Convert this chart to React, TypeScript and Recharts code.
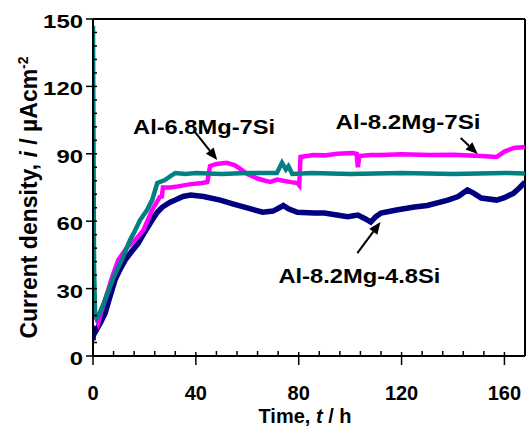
import React from "react";
import {
  LineChart,
  Line,
  XAxis,
  YAxis,
  ReferenceLine,
  ReferenceDot,
} from "recharts";

// readings [time h, current density µA/cm²]
const alloy68Mg7Si: [number, number][] = [
  [0, 147], [0.4, 40], [0.8, 19], [1.5, 17], [2.5, 19], [4, 23], [6, 29],
  [8, 35], [10, 40], [11.3, 43], [14.4, 51.6], [16, 55], [18.3, 60.5],
  [21, 65], [23, 69.4], [25, 77], [28, 78.3], [30, 80], [32, 81.4],
  [36, 81], [40, 81.5], [50, 81], [60, 81.5], [71.5, 81.5], [73.5, 86],
  [75, 83], [76, 84.5], [77.5, 81], [85, 81.5], [100, 81], [120, 81.5],
  [140, 81], [160, 81.5], [168, 81.2],
];

const alloy82Mg7Si: [number, number][] = [
  [0, 21], [0.8, 18], [2, 14.7], [3, 19], [4.7, 25], [7.4, 35], [9.8, 42.7],
  [13, 48], [16.4, 51.6], [19.6, 56], [23, 65], [26, 70.8], [26.8, 71],
  [27.2, 75], [30, 75], [33, 75.5], [38, 76.5], [42.5, 77], [44.5, 77.5],
  [45.5, 84.5], [48, 85.5], [52, 86], [55, 85], [57, 83.5], [60, 81],
  [64, 79], [67, 78], [69, 77.5], [71.6, 78.5], [74, 78], [77, 77.4],
  [79.5, 77], [80.2, 76], [80.7, 88.6], [85.7, 89.5], [90, 89.3], [95, 90],
  [101, 90.3], [102.5, 90], [103, 84], [103.6, 89], [108, 89.5],
  [112, 89.5], [120, 89.8], [131, 89.5], [140, 89.6], [151, 89],
  [157, 88.6], [160, 91], [163.6, 92.6], [168, 93],
];

const alloy82Mg48Si: [number, number][] = [
  [0, 7], [0.3, 12], [1, 11], [2, 13], [3, 15], [4.7, 19], [6.5, 26],
  [8.6, 34], [10.5, 38.5], [12.5, 42.7], [15, 46.5], [17.5, 50], [20, 55],
  [23, 60.5], [25, 64], [27, 66.3], [30, 68.5], [32, 69.4], [35, 71],
  [38, 71.6], [43, 71], [49.5, 69.4], [55, 67.5], [60, 65.9], [66, 64],
  [70, 64.5], [73, 66.3], [74, 67], [76, 65.5], [79.5, 64], [86, 63.6],
  [90, 63.6], [99, 62], [103, 62.7], [106, 61], [108, 59.6], [110, 62],
  [112, 63.6], [118, 65], [125, 66.3], [130, 67], [138, 69.4], [142, 71],
  [145.6, 73.9], [148, 72.5], [151, 70.3], [157, 69.4], [160, 70.5],
  [163.6, 72.5], [166, 75], [168, 77.4],
];

const xMajor = [0, 40, 80, 120, 160];
const yMajor = [0, 30, 60, 90, 120, 150];
const xTicks = [0, 8, 16, 24, 32, 40, 48, 56, 64, 72, 80, 88, 96, 104, 112, 120, 128, 136, 144, 152, 160];
const yTicks = [0, 6, 12, 18, 24, 30, 36, 42, 48, 54, 60, 66, 72, 78, 84, 90, 96, 102, 108, 114, 120, 126, 132, 138, 144, 150];

// label text, text position [t, i], arrow tail [t, i], arrow tip [t, i], text width
const labels = ["Al-6.8Mg-7Si", "Al-8.2Mg-7Si", "Al-8.2Mg-4.8Si"];
const labelPos: [number, number][] = [[43.2, 98.8], [122.5, 101], [103.6, 32.4]];
const arrowFrom: [number, number][] = [[39.7, 99.7], [143, 97], [102.8, 45.8]];
const arrowTo: [number, number][] = [[48.3, 87.2], [149.6, 89.9], [111.8, 59.6]];
const labelWidth = [142, 145, 162];

const FONT = "'Liberation Sans', Arial, sans-serif";

const toRows = (pts: [number, number][]) => pts.map(([t, v]) => ({ t, v }));

function XTick({ x, y, payload }: any) {
  const major = xMajor.includes(payload.value);
  return (
    <g>
      <line x1={x} x2={x} y1={y - (major ? 4 : 5)} y2={major ? y + 9 : y} stroke="#000" strokeWidth={1.5} />
      {major && (
        <text x={x} y={y + 44} textAnchor="middle" fontSize={20} fontWeight="bold" fontFamily={FONT} fill="#000">
          {payload.value}
        </text>
      )}
    </g>
  );
}

function YTick({ x, y, payload }: any) {
  const major = yMajor.includes(payload.value);
  const s = String(payload.value);
  return (
    <g>
      <line x1={major ? x - 7 : x} x2={x + 4} y1={y} y2={y} stroke="#000" strokeWidth={1.5} />
      {major && (
        <text
          x={x - 10}
          y={y + 9}
          textAnchor="end"
          fontSize={19}
          fontWeight="bold"
          fontFamily={FONT}
          fill="#000"
          textLength={s.length * 13.3}
          lengthAdjust="spacingAndGlyphs"
        >
          {s}
        </text>
      )}
    </g>
  );
}

function Arrow({ x1, y1, x2, y2 }: any) {
  const a = Math.atan2(y2 - y1, x2 - x1);
  const len = 12;
  const w = 5;
  const bx = x2 - len * Math.cos(a);
  const by = y2 - len * Math.sin(a);
  const px = -Math.sin(a) * w;
  const py = Math.cos(a) * w;
  return (
    <g>
      <line x1={x1} y1={y1} x2={bx} y2={by} stroke="#000" strokeWidth={2} />
      <polygon points={`${x2},${y2} ${bx + px},${by + py} ${bx - px},${by - py}`} fill="#000" />
    </g>
  );
}

export default function App() {
  return (
    <div style={{ position: "absolute", left: 0, top: 0, background: "#fff" }}>
      <LineChart width={527} height={428} margin={{ top: 19, right: 2, bottom: 0, left: 0 }}>
        <XAxis
          type="number"
          dataKey="t"
          domain={[0, 168]}
          allowDataOverflow
          ticks={xTicks}
          interval={0}
          height={72}
          tickSize={0}
          tickMargin={0}
          tickLine={false}
          tick={<XTick />}
          axisLine={{ stroke: "#000", strokeWidth: 2 }}
          label={{
            content: ({ viewBox }: any) => (
              <text
                x={viewBox.x + viewBox.width / 2 - 4}
                y={viewBox.y + 67}
                textAnchor="middle"
                fontSize={20}
                fontWeight="bold"
                fontFamily={FONT}
                fill="#000"
              >
                Time, <tspan fontStyle="italic">t</tspan> / h
              </text>
            ),
          }}
        />
        <YAxis
          type="number"
          domain={[0, 150]}
          allowDataOverflow
          ticks={yTicks}
          interval={0}
          width={93}
          tickSize={0}
          tickMargin={0}
          tickLine={false}
          tick={<YTick />}
          axisLine={{ stroke: "#000", strokeWidth: 2 }}
          label={{
            content: ({ viewBox }: any) => (
              <text
                transform={`translate(${viewBox.x + 37}, ${viewBox.y + viewBox.height / 2 + 10}) rotate(-90)`}
                textAnchor="middle"
                fontSize={23}
                fontWeight="bold"
                fontFamily={FONT}
                fill="#000"
              >
                Current density, <tspan fontStyle="italic">i</tspan> / µAcm
                <tspan fontSize={14} dy={-9}>-2</tspan>
              </text>
            ),
          }}
        />
        <ReferenceLine y={150} stroke="#000" strokeWidth={2} />
        <ReferenceLine x={168} stroke="#000" strokeWidth={2} />

        <Line
          data={toRows(alloy82Mg48Si)}
          dataKey="v"
          stroke="#000080"
          strokeWidth={5.5}
          dot={false}
          isAnimationActive={false}
        />
        <Line
          data={toRows(alloy82Mg7Si)}
          dataKey="v"
          stroke="#FF00FF"
          strokeWidth={4.5}
          dot={false}
          isAnimationActive={false}
        />
        <Line
          data={toRows(alloy68Mg7Si)}
          dataKey="v"
          stroke="#008080"
          strokeWidth={4.5}
          dot={false}
          isAnimationActive={false}
        />

        {labels.map((name, i) => (
          <ReferenceLine
            key={"a" + i}
            segment={[
              { x: arrowFrom[i][0], y: arrowFrom[i][1] },
              { x: arrowTo[i][0], y: arrowTo[i][1] },
            ]}
            shape={(p: any) => <Arrow {...p} />}
          />
        ))}
        {labels.map((name, i) => (
          <ReferenceDot
            key={"l" + i}
            x={labelPos[i][0]}
            y={labelPos[i][1]}
            r={0}
            shape={({ cx, cy }: any) => (
              <text
                x={cx}
                y={cy}
                textAnchor="middle"
                fontSize={21}
                fontWeight="bold"
                fontFamily={FONT}
                fill="#000"
                textLength={labelWidth[i]}
                lengthAdjust="spacingAndGlyphs"
              >
                {name}
              </text>
            )}
          />
        ))}
      </LineChart>
    </div>
  );
}
